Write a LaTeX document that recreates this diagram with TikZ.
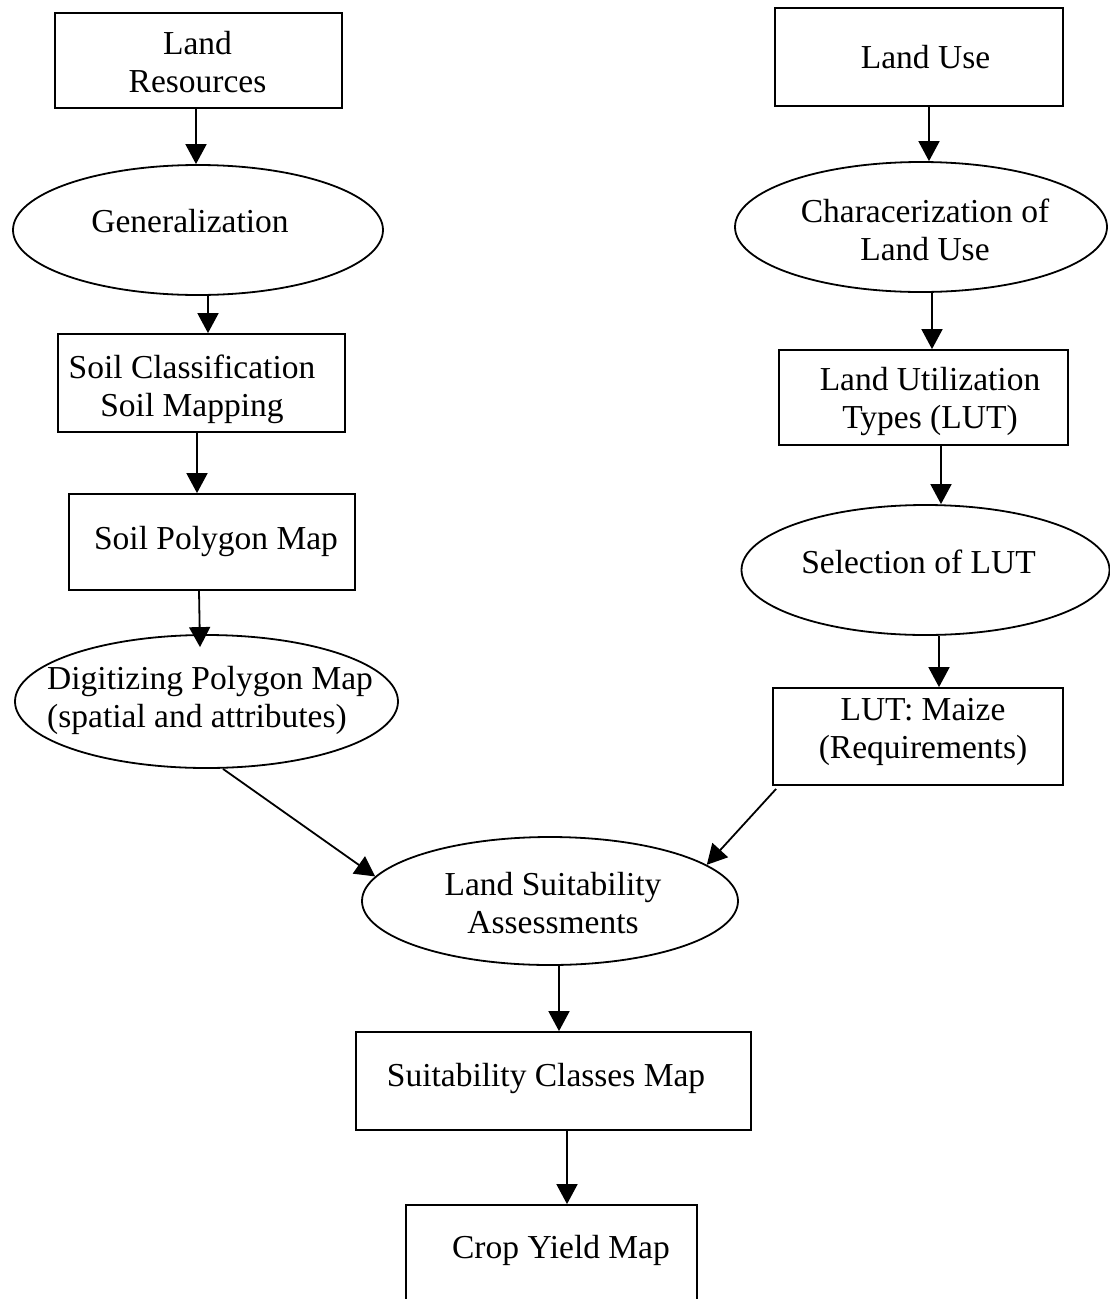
\documentclass[tikz,border=0pt]{standalone}
\usepackage{fontspec}
\setmainfont{Liberation Serif}
\usetikzlibrary{arrows.meta,shapes.geometric}
\begin{document}
\begin{tikzpicture}[x=1pt,y=-1pt,
  boxnode/.style={draw,line width=1.8pt,rectangle,inner sep=0pt},
  ellnode/.style={draw,line width=1.8pt,ellipse,inner sep=0pt},
  txt/.style={inner sep=0pt,align=center,font=\fontsize{33.5}{38}\selectfont},
  arr/.style={line width=1.8pt,-{Triangle[length=20pt,width=21pt]}}]
\useasboundingbox (0,0) rectangle (1109,1299);
% left column
\node[boxnode,minimum width=287pt,minimum height=95pt] (lr) at (198.5,60.5) {};
\node[txt] (lrt) at (197.5,62) {Land\\Resources};
\node[ellnode,minimum width=370pt,minimum height=130pt] (gen) at (198,230) {};
\node[txt] (gent) at (190,221) {Generalization};
\node[boxnode,minimum width=287pt,minimum height=98pt] (soilc) at (201.5,383) {};
\node[txt] (soilct) at (192,389) {Soil Classification\\Soil Mapping};
\node[boxnode,minimum width=286pt,minimum height=96pt] (soilp) at (212,542) {};
\node[txt] (soilpt) at (216,541) {Soil Polygon Map};
\node[ellnode,minimum width=383pt,minimum height=133pt] (dig) at (206.5,701.5) {};
\node[txt,align=left,anchor=west] (digt) at (47,700) {Digitizing Polygon Map\\(spatial and attributes)};
% right column
\node[boxnode,minimum width=288pt,minimum height=98pt] (lu) at (919,57) {};
\node[txt] (lut) at (925.5,57) {Land Use};
\node[ellnode,minimum width=372pt,minimum height=130pt] (char) at (921,227) {};
\node[txt] (chart) at (925,230) {Characerization of\\Land Use};
\node[boxnode,minimum width=289pt,minimum height=95pt] (lutt) at (923.5,397.5) {};
\node[txt] (luttt) at (930,401) {Land Utilization\\Types (LUT)};
\node[ellnode,minimum width=368pt,minimum height=130pt] (sel) at (925.5,570) {};
\node[txt] (selt) at (918.5,562) {Selection of LUT};
\node[boxnode,minimum width=290pt,minimum height=97pt] (lutm) at (918,736.5) {};
\node[txt] (lutmt) at (923,732) {LUT: Maize\\(Requirements)};
% centre
\node[ellnode,minimum width=376pt,minimum height=128pt] (lsa) at (550,901) {};
\node[txt] (lsat) at (553,903) {Land Suitability\\Assessments};
\node[boxnode,minimum width=395pt,minimum height=98pt] (scm) at (553.5,1081) {};
\node[txt] (scmt) at (546,1078) {Suitability Classes Map};
\node[boxnode,minimum width=291pt,minimum height=110pt] (cym) at (551.5,1260) {};
\node[txt] (cymt) at (561,1250) {Crop Yield Map};
% connectors
\draw[arr] ([xshift=-2.5pt]lr.south) -- ([xshift=-2pt]gen.north);
\draw[arr] ([xshift=10pt]gen.south) -- ([xshift=6.5pt]soilc.north);
\draw[arr] ([xshift=-4.5pt]soilc.south) -- ([xshift=-15pt]soilp.north);
\draw[arr] ([xshift=-13pt]soilp.south) -- ([xshift=-6.5pt,yshift=-13pt]dig.north);
\draw[arr] ([xshift=16.5pt]dig.south) -- (lsa.172);
\draw[arr] ([xshift=10pt]lu.south) -- ([xshift=8pt]char.north);
\draw[arr] ([xshift=11pt]char.south) -- ([xshift=8.5pt]lutt.north);
\draw[arr] ([xshift=17.5pt]lutt.south) -- ([xshift=15.5pt]sel.north);
\draw[arr] ([xshift=13.5pt]sel.south) -- ([xshift=21pt]lutm.north);
\draw[arr] ([xshift=4pt,yshift=-3pt]lutm.south west) -- (lsa.13);
\draw[arr] ([xshift=9pt]lsa.south) -- ([xshift=5.5pt]scm.north);
\draw[arr] ([xshift=13.5pt]scm.south) -- ([xshift=15.5pt]cym.north);
\end{tikzpicture}
\end{document}
